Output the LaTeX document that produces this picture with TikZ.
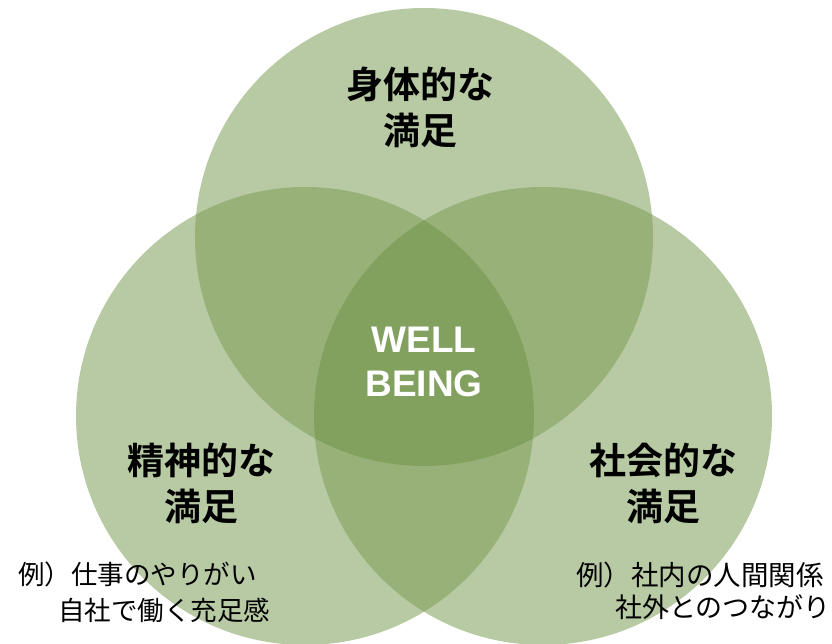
\documentclass[tikz,border=0pt]{standalone}
\usepackage{fontspec}
\setmainfont{Liberation Sans}
\newfontfamily\jpb{Noto Sans CJK JP Bold}
\newfontfamily\jpr{Noto Sans CJK JP}
\definecolor{one}{HTML}{B7CAA4}
\definecolor{two}{HTML}{98B178}
\definecolor{three}{HTML}{82A05E}
\begin{document}
\begin{tikzpicture}[x=1pt,y=-1pt,
  title/.style={font=\jpb\fontsize{37}{45}\selectfont, align=center, inner sep=0pt, text=black},
  core/.style={font=\bfseries\fontsize{37}{45}\selectfont, align=center, inner sep=0pt, text=white},
  example/.style={font=\jpr\fontsize{26.5}{33}\selectfont, anchor=west, inner sep=0pt, text=black}]
\useasboundingbox (0,0) rectangle (832,644);
\clip (0,0) rectangle (832,644);
\def\R{229pt}
\coordinate (ct) at (424,237);
\coordinate (cl) at (305,416);
\coordinate (cr) at (543,416);
\fill[one] (ct) circle[radius=\R];
\fill[one] (cl) circle[radius=\R];
\fill[one] (cr) circle[radius=\R];
\begin{scope}
  \clip (ct) circle[radius=\R];
  \fill[two] (cl) circle[radius=\R];
  \fill[two] (cr) circle[radius=\R];
\end{scope}
\begin{scope}
  \clip (cl) circle[radius=\R];
  \fill[two] (cr) circle[radius=\R];
\end{scope}
\begin{scope}
  \clip (ct) circle[radius=\R];
  \clip (cl) circle[radius=\R];
  \fill[three] (cr) circle[radius=\R];
\end{scope}
\node[title] (top1) at (420,84) {身体的な};
\node[title] (top2) at (420,130) {満足};
\node[title] (left1) at (201,460) {精神的な};
\node[title] (left2) at (201,506) {満足};
\node[title] (right1) at (663,460) {社会的な};
\node[title] (right2) at (663,506) {満足};
\node[core] (well) at (424,340) {WELL};
\node[core] (being) at (424,384) {BEING};
\node[example] (ex1) at (18,574) {例）仕事のやりがい};
\node[example] (ex2) at (58,610) {自社で働く充足感};
\node[example, font=\jpr\fontsize{27.5}{33}\selectfont] (ex3) at (576,575) {例）社内の人間関係};
\node[example, font=\jpr\fontsize{27}{33}\selectfont] (ex4) at (615,607) {社外とのつながり};
\end{tikzpicture}
\end{document}
